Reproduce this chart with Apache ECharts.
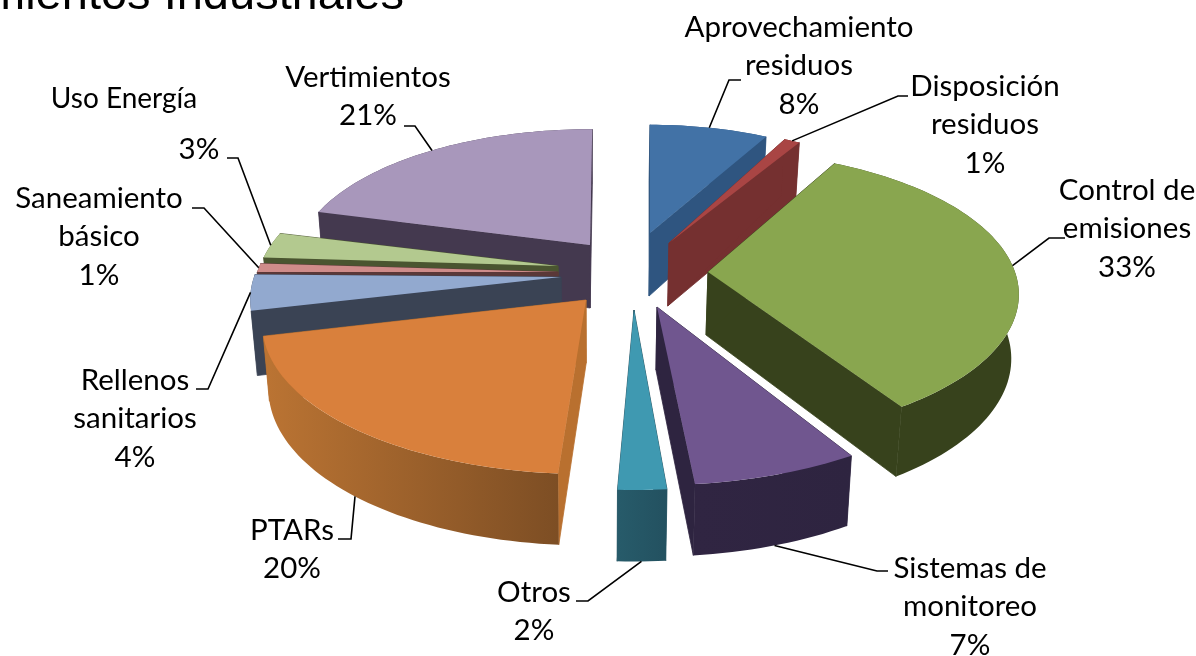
<!DOCTYPE html>
<html><head><meta charset="utf-8">
<style>html,body{margin:0;padding:0;background:#fff}#c{width:1196px;height:656px}</style>
<script src="https://cdn.jsdelivr.net/npm/echarts@6/dist/echarts.min.js"></script></head>
<body><div id="c"></div>
<script>
// ---- data ----
const titleText = 'mientos Industriales';
const categories = ['Aprovechamiento residuos','Disposición residuos','Control de emisiones','Sistemas de monitoreo','Otros','PTARs','Rellenos sanitarios','Saneamiento básico','Uso Energía','Vertimientos'];
const values = [8,1,33,7,2,20,4,1,3,21];
const labelLines = [['Aprovechamiento','residuos'],['Disposición','residuos'],['Control de','emisiones'],['Sistemas de','monitoreo'],['Otros'],['PTARs'],['Rellenos','sanitarios'],['Saneamiento','básico'],['Uso Energía'],['Vertimientos']];
// ---- colours ----
const topColors = ['#4272a6','#a94544','#89a64f','#70568f','#3f99b1','#d9803c','#92a9cf','#cf8c8a','#b3c98f','#a897bb'];
const wallColors = ['#2f5580','#753030','#37421c','#2e2440','#235160','#b9702f','#3a4354','#5a3838','#4a5530','#44394f'];
const rimLeft = ['#2f5580','#753030','#37421c','#302542','#275b6a','#bb7433','#3a4354','#5a3838','#4a5530','#44394f'];
const rimRight = ['#2f5580','#753030','#37421c','#2e2440','#235160','#7d4e24','#3a4354','#5a3838','#4a5530','#44394f'];
// ---- layout of the exploded perspective pie ----
const apexes = [[650,233],[669,243],[708,272],[657,307],[634,310],[586,300],[561,277],[558,272],[558,266],[590,245]];
const radiusScale = [.88,.94,1,1.06,1.07,1.04,1,.98,.97,.95];
const angleShift = [0,-1.8,-4.4,-2,-1.2,.6,1,0,0,.5];
const drawOrder = [9,8,7,6,5,0,1,2,3,4];
const RX = 307, RY = 140, PERSP = .157, DEPTH = 63, DEPTH_V = 8, VANISH_X = 598, VANISH_K = .018;
// ---- layout of labels ----
const labelCenters = [[799,27],[985,86],[1127,190],[970,568],[534,592],[292,530],[135,380],[99,198],[124,99],[368,77]];
const percentAt = [null,null,null,null,null,null,null,null,[199,149],null];
const lineStep = 38.5, labelFont = 29.5, labelScale = 1;
const leaderStart = [[741,80],[908,96],[1065,238],[888,571],[576,601],[338,539],[196,389],[192,208],[227,158],[404,126]];
const leaderElbow = [[729,80],[898,96],[1049,238],[877,571],[588,601],[351,539],[208,389],[204,208],[238,158],[415,126]];
const leaderOnBase = [0,0,0,1,1,1,0,0,0,0];

const total = values.reduce((a,b)=>a+b,0);
let acc = 0;
const spans = values.map((v,i)=>{const s=acc/total*360+angleShift[i];acc+=v;return [s,acc/total*360+angleShift[i]];});
function topPoint(i,ang){const a=ang*Math.PI/180,r=radiusScale[i],u=r*Math.sin(a),v=-r*Math.cos(a),f=1/(1-PERSP*v);
  return {x:apexes[i][0]+RX*u*f,y:apexes[i][1]+RY*v*f,v};}
function basePoint(p){return [p.x+(VANISH_X-p.x)*VANISH_K,p.y+DEPTH+DEPTH_V*Math.max(-1,Math.min(1.05,p.v))];}
function apexTop(i){return {x:apexes[i][0],y:apexes[i][1],v:0};}

function sliceGroup(i,z){
  const [s,e]=spans[i],n=Math.max(6,Math.round((e-s)/1.5)),rim=[];
  for(let k=0;k<=n;k++)rim.push(topPoint(i,s+(e-s)*k/n));
  const A=apexTop(i),Ab=basePoint(A),xy=p=>[p.x,p.y];
  const first=rim[0],last=rim[n];
  const xs=rim.map(p=>p.x),minX=Math.min(...xs),maxX=Math.max(...xs);
  const poly=(pts,fill,stroke)=>({type:'polygon',z2:z,shape:{points:pts},style:{fill,stroke:stroke||null,lineWidth:stroke?.8:0}});
  const grad={type:'linear',global:true,x:minX,y:0,x2:maxX,y2:0,colorStops:[{offset:0,color:rimLeft[i]},{offset:1,color:rimRight[i]}]};
  return [
    poly([xy(A),xy(last),basePoint(last),Ab],wallColors[i],wallColors[i]),
    poly([xy(A),xy(first),basePoint(first),Ab],wallColors[i],wallColors[i]),
    poly(rim.map(xy).concat(rim.slice().reverse().map(basePoint)),grad),
    poly([xy(A)].concat(rim.map(xy)),topColors[i])
  ];
}
function labelGroup(i){
  const out=[],lines=labelLines[i].slice(),c=labelCenters[i],pct=Math.round(values[i]/total*100)+'%';
  const txt=(t,x,y,size)=>({type:'text',z2:500,x,y,style:{text:t,x:0,y:0,fill:'#000',font:(size||labelFont)+'px Lato',align:'center',verticalAlign:'middle'},scaleX:labelScale});
  lines.forEach((t,k)=>out.push(txt(t,c[0],c[1]+k*lineStep,i===8?28:labelFont)));
  const pp=percentAt[i]||[c[0],c[1]+lines.length*lineStep];
  out.push(txt(pct,pp[0],pp[1]));
  const [s,e]=spans[i],p=topPoint(i,(s+e)/2),end=leaderOnBase[i]?basePoint(p):[p.x,p.y];
  out.push({type:'polyline',z2:400,shape:{points:[leaderStart[i],leaderElbow[i],end]},style:{stroke:'#000',lineWidth:1.6,fill:null}});
  return out;
}
const chart=echarts.init(document.getElementById('c'),null,{renderer:'canvas'});
chart.setOption({
  animation:false,backgroundColor:'#fff',
  graphic:[{type:'text',x:404,y:-27,style:{text:titleText,fill:'#000',font:'47px "Liberation Sans"',align:'right',verticalAlign:'top'}}],
  series:[
   {type:'custom',coordinateSystem:'none',silent:true,z:2,data:drawOrder.map(i=>[i]),
    renderItem:(p,api)=>{const i=api.value(0);return {type:'group',children:sliceGroup(i,10+drawOrder.indexOf(i))};}},
   {type:'custom',coordinateSystem:'none',silent:true,z:3,data:values.map((v,i)=>[i]),
    renderItem:(p,api)=>({type:'group',children:labelGroup(api.value(0))})}
  ]
});
</script></body></html>
